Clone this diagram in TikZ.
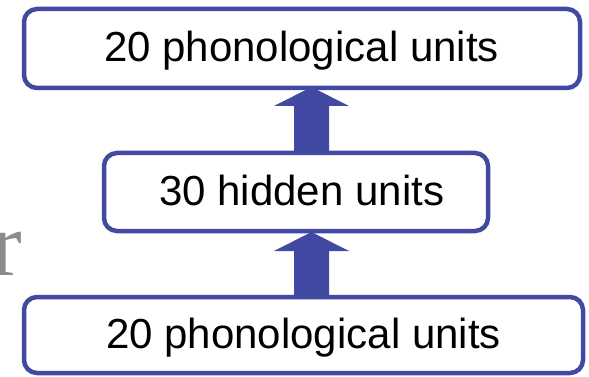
\documentclass[tikz,border=0pt]{standalone}
\usepackage{fontspec}
\setmainfont{Liberation Sans}
\newfontfamily\serifgrey{Liberation Serif}
\begin{document}
\begin{tikzpicture}[x=1pt,y=-1pt,
  unitbox/.style={draw=boxblue,line width=4.5pt,fill=white,rounded corners=13pt},
  label/.style={font=\fontsize{42}{42}\selectfont,inner sep=0pt,anchor=base west},
  blockarrow/.style={fill=boxblue,draw=none}]
\definecolor{boxblue}{HTML}{4249A3}
\useasboundingbox (0,0) rectangle (589,377);

% stray grey letter at the left margin
\node[font=\serifgrey\fontsize{92}{92}\selectfont,text=black!45,inner sep=0pt,anchor=base west] (stray) at (-9,275) {r};

% block arrows (drawn first so the boxes cover their tips)
\coordinate (a1) at (311.5,153);
\coordinate (a2) at (311.5,232);
\fill[blockarrow] (294,153) -- (294,106) -- (274,106) -- (311.5,87) -- (349,106) -- (329,106) -- (329,153) -- cycle;
\fill[blockarrow] (294,297) -- (294,251) -- (274,251) -- (311.5,232) -- (349,251) -- (329,251) -- (329,297) -- cycle;

% the three layers
\draw[unitbox] (24,9) rectangle (580,88);
\draw[unitbox] (104,153) rectangle (488,231);
\draw[unitbox] (24,297) rectangle (583,373);

\node[label] (top) at (104,62) {20 phonological units};
\node[label] (mid) at (159,205) {30 hidden units};
\node[label] (bot) at (106,348) {20 phonological units};
\end{tikzpicture}
\end{document}
